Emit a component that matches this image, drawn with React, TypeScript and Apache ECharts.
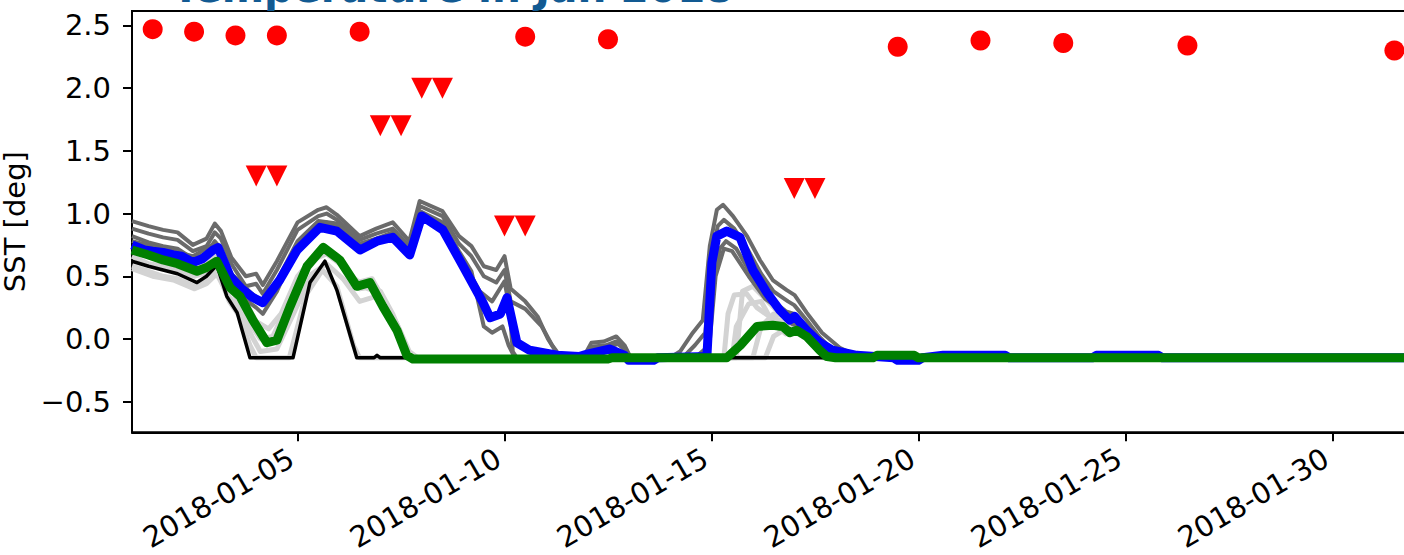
import React, { useEffect, useRef } from "react";
import * as echarts from "echarts";

// x values are days since 2018-01-01 00:00
const TITLE = "Temperature in Jan 2018";
const Y_NAME = "SST [deg]";
const X_TICK_DAYS = [4, 9, 14, 19, 24, 29];
const X_TICK_LABELS = ["2018-01-05", "2018-01-10", "2018-01-15", "2018-01-20", "2018-01-25", "2018-01-30"];
const Y_TICK_VALUES = [-0.5, 0, 0.5, 1.0, 1.5, 2.0, 2.5];
const Y_TICK_LABELS = ["\u22120.5", "0.0", "0.5", "1.0", "1.5", "2.0", "2.5"];

const lightMember1 = [[0,0.66],[0.4,0.6],[0.75,0.58],[1.1,0.55],[1.5,0.5],[1.8,0.53],[2.05,0.62],[2.3,0.45],[2.6,0.3],[2.9,0.12],[3.2,-0.02],[3.5,0.02],[3.85,0.3],[4.25,0.6],[4.65,0.72],[5.05,0.62],[5.45,0.45],[5.8,0.48],[6.1,0.3],[6.4,0.12],[6.6,-0.05],[6.75,-0.15],[14.3,-0.15],[14.4,0.2],[14.55,0.35],[14.85,0.36],[15.1,0.25],[15.4,0.18],[15.7,0.14],[16.0,0.06],[16.3,0.0],[16.6,-0.1],[16.8,-0.15],[30.9,-0.15]];
const lightMember2 = [[0,0.58],[0.4,0.54],[0.75,0.5],[1.1,0.48],[1.5,0.42],[1.8,0.46],[2.05,0.55],[2.35,0.3],[2.6,0.18],[2.85,-0.05],[3.0,-0.15],[3.8,-0.15],[4.2,0.35],[4.6,0.55],[4.95,0.42],[5.35,-0.05],[5.5,-0.15],[14.6,-0.15],[14.75,0.38],[15.0,0.42],[15.3,0.32],[15.6,0.22],[15.9,0.12],[16.2,0.05],[16.5,-0.05],[16.8,-0.15],[30.9,-0.15]];
const lightMember3 = [[0,0.74],[0.4,0.68],[0.75,0.66],[1.1,0.63],[1.5,0.58],[1.8,0.6],[2.05,0.68],[2.35,0.5],[2.7,0.32],[3.0,0.14],[3.3,0.08],[3.6,0.2],[4.0,0.5],[4.5,0.7],[4.85,0.68],[5.3,0.5],[5.7,0.4],[6.0,0.38],[6.3,0.2],[6.55,0.0],[6.7,-0.15],[15.0,-0.15],[15.2,0.1],[15.5,0.2],[15.8,0.18],[16.1,0.1],[16.4,0.05],[16.7,-0.08],[16.9,-0.15],[30.9,-0.15]];
const lightMember4 = [[0,0.7],[0.75,0.62],[1.5,0.55],[2.05,0.64],[2.4,0.4],[2.8,0.15],[3.1,0.0],[3.4,0.02],[3.8,0.3],[4.3,0.62],[4.7,0.68],[5.1,0.58],[5.5,0.4],[5.9,0.42],[6.2,0.25],[6.5,0.05],[6.7,-0.1],[6.9,-0.15],[15.3,-0.15],[15.5,0.02],[15.8,0.08],[16.1,0.12],[16.4,0.05],[16.7,-0.05],[17.0,-0.15],[30.9,-0.15]];
const lightMember5 = [[0,0.56],[0.5,0.5],[1.0,0.47],[1.5,0.4],[1.8,0.44],[2.05,0.52],[2.3,0.36],[2.6,0.22],[2.9,0.02],[3.1,-0.1],[3.5,-0.08],[3.9,0.2],[4.35,0.52],[4.7,0.6],[5.1,0.48],[5.5,0.3],[5.9,0.34],[6.2,0.18],[6.5,0.0],[6.65,-0.15],[14.5,-0.15],[14.6,0.1],[14.9,0.28],[15.2,0.3],[15.5,0.12],[15.8,0.04],[16.1,0.08],[16.4,0.02],[16.7,-0.15],[30.9,-0.15]];

const darkMember1 = [[0,0.94],[0.4,0.9],[0.75,0.87],[1.1,0.85],[1.47,0.75],[1.8,0.8],[2.0,0.92],[2.15,0.86],[2.4,0.65],[2.75,0.5],[3.0,0.52],[3.16,0.43],[3.5,0.62],[4.0,0.93],[4.5,1.03],[4.7,1.05],[4.95,0.99],[5.5,0.82],[5.9,0.88],[6.3,0.93],[6.7,0.78],[6.95,1.1],[7.5,1.02],[7.9,0.82],[8.2,0.74],[8.5,0.58],[8.8,0.55],[9.0,0.66],[9.15,0.4],[9.5,0.3],[9.8,0.18],[10.05,0.0],[10.3,-0.13],[10.5,-0.15],[10.9,-0.15],[11.1,-0.03],[11.4,-0.02],[11.7,0.02],[11.9,-0.05],[12.05,-0.15],[13.0,-0.15],[13.24,-0.1],[13.55,0.05],[13.79,0.15],[13.96,0.74],[14.13,1.03],[14.28,1.07],[14.52,0.98],[14.86,0.82],[15.17,0.63],[15.48,0.47],[15.82,0.39],[16.01,0.35],[16.3,0.21],[16.67,0.05],[17.1,-0.07],[17.42,-0.12],[17.6,-0.15],[30.9,-0.15]];
const darkMember2 = [[0,0.88],[0.4,0.84],[0.75,0.81],[1.1,0.79],[1.47,0.7],[1.8,0.74],[2.0,0.85],[2.15,0.8],[2.4,0.6],[2.75,0.42],[3.0,0.44],[3.16,0.36],[3.5,0.55],[4.0,0.87],[4.5,0.98],[4.7,1.0],[4.95,0.95],[5.5,0.79],[5.9,0.84],[6.3,0.88],[6.7,0.74],[6.95,1.06],[7.5,0.98],[7.9,0.76],[8.2,0.66],[8.5,0.5],[8.8,0.45],[9.0,0.55],[9.15,0.3],[9.5,0.24],[9.9,0.1],[10.15,-0.05],[10.35,-0.14],[10.5,-0.15],[10.95,-0.15],[11.15,-0.06],[11.45,-0.05],[11.7,-0.02],[11.9,-0.08],[12.0,-0.15],[13.3,-0.15],[13.6,-0.05],[13.85,0.05],[14.0,0.6],[14.15,0.9],[14.3,0.95],[14.55,0.88],[14.9,0.7],[15.2,0.52],[15.5,0.38],[15.85,0.3],[16.0,0.27],[16.3,0.15],[16.6,0.02],[16.9,-0.08],[17.2,-0.14],[17.4,-0.15],[30.9,-0.15]];
const darkMember3 = [[0,0.82],[0.4,0.77],[0.75,0.74],[1.1,0.72],[1.47,0.64],[1.8,0.68],[2.0,0.78],[2.15,0.72],[2.45,0.45],[2.8,0.3],[3.0,0.25],[3.16,0.2],[3.5,0.38],[4.0,0.75],[4.5,0.9],[4.7,0.93],[4.95,0.9],[5.5,0.74],[5.9,0.78],[6.3,0.82],[6.7,0.68],[6.95,1.02],[7.5,0.93],[7.9,0.7],[8.2,0.54],[8.5,0.1],[8.7,0.05],[8.95,0.1],[9.1,-0.05],[9.25,-0.15],[10.9,-0.15],[11.1,-0.08],[11.5,-0.06],[11.75,-0.04],[11.95,-0.1],[12.05,-0.15],[13.5,-0.15],[13.9,-0.1],[14.02,0.4],[14.2,0.72],[14.35,0.78],[14.6,0.72],[14.9,0.55],[15.2,0.4],[15.5,0.3],[15.8,0.22],[16.0,0.2],[16.3,0.1],[16.6,-0.02],[16.9,-0.12],[17.1,-0.15],[30.9,-0.15]];
const darkMember4 = [[0,0.78],[0.75,0.72],[1.47,0.66],[2.0,0.76],[2.15,0.7],[2.4,0.52],[2.9,0.36],[3.16,0.3],[3.5,0.46],[4.0,0.78],[4.5,0.94],[4.95,0.92],[5.5,0.76],[5.9,0.8],[6.3,0.85],[6.7,0.7],[6.95,1.0],[7.5,0.9],[8.0,0.62],[8.4,0.38],[8.7,0.3],[9.0,0.46],[9.12,0.25],[9.2,-0.1],[9.3,-0.15],[10.9,-0.15],[11.2,-0.1],[11.6,-0.08],[11.9,-0.15],[13.6,-0.15],[13.95,-0.05],[14.1,0.5],[14.3,0.72],[14.5,0.7],[14.9,0.5],[15.3,0.32],[15.6,0.25],[15.95,0.12],[16.2,0.1],[16.5,0.0],[16.8,-0.1],[17.0,-0.15],[30.9,-0.15]];

const blackLine = [[0,0.62],[0.4,0.58],[0.75,0.55],[1.1,0.52],[1.57,0.45],[1.8,0.5],[2.05,0.59],[2.29,0.34],[2.54,0.21],[2.85,-0.15],[3.89,-0.15],[4.3,0.45],[4.66,0.62],[4.95,0.39],[5.43,-0.15],[5.85,-0.15],[5.92,-0.13],[6.0,-0.15],[30.9,-0.15]];
const blueLine = [[0,0.75],[0.3,0.71],[0.5,0.7],[0.75,0.69],[1.0,0.67],[1.2,0.66],[1.47,0.61],[1.7,0.64],[1.96,0.71],[2.08,0.73],[2.37,0.5],[2.65,0.4],[2.92,0.33],[3.16,0.29],[3.57,0.47],[3.99,0.71],[4.54,0.89],[4.95,0.86],[5.51,0.71],[5.92,0.78],[6.3,0.81],[6.71,0.67],[7.0,0.98],[7.51,0.87],[8.0,0.58],[8.48,0.29],[8.65,0.17],[8.9,0.2],[9.06,0.33],[9.3,-0.03],[9.61,-0.09],[10.27,-0.13],[10.8,-0.14],[11.0,-0.12],[11.55,-0.08],[11.9,-0.13],[12.0,-0.17],[12.6,-0.17],[12.7,-0.15],[13.89,-0.14],[14.01,0.61],[14.13,0.82],[14.37,0.86],[14.69,0.81],[15.0,0.55],[15.34,0.37],[15.65,0.23],[15.89,0.15],[16.01,0.18],[16.3,0.07],[16.62,-0.03],[16.93,-0.09],[17.51,-0.13],[18.4,-0.15],[18.5,-0.17],[19.0,-0.17],[19.1,-0.15],[19.6,-0.13],[21.1,-0.13],[21.2,-0.15],[23.2,-0.15],[23.3,-0.13],[24.8,-0.13],[24.9,-0.15],[30.9,-0.15]];
const greenLine = [[0,0.71],[0.4,0.67],[0.75,0.63],[1.1,0.6],[1.57,0.54],[1.8,0.57],[2.05,0.62],[2.37,0.41],[2.61,0.34],[2.92,0.15],[3.26,-0.03],[3.5,-0.01],[3.82,0.26],[4.23,0.58],[4.62,0.73],[5.02,0.63],[5.43,0.42],[5.75,0.45],[6.06,0.26],[6.4,0.07],[6.64,-0.13],[6.79,-0.16],[11.5,-0.16],[11.6,-0.15],[14.37,-0.15],[14.7,-0.05],[15.1,0.1],[15.48,0.11],[15.72,0.1],[15.89,0.05],[16.06,0.07],[16.3,0.02],[16.62,-0.09],[16.79,-0.14],[17.0,-0.15],[17.9,-0.15],[18.0,-0.13],[18.9,-0.13],[19.0,-0.15],[30.9,-0.15]];

const obsDots = [[0.5,2.47],[1.5,2.45],[2.5,2.42],[3.5,2.42],[5.5,2.45],[9.5,2.41],[11.5,2.39],[18.5,2.33],[20.5,2.38],[22.5,2.36],[25.5,2.34],[30.5,2.3]];
const warnTriangles = [[3.0,1.3],[3.5,1.3],[6.0,1.7],[6.5,1.7],[7.0,2.0],[7.5,2.0],[9.0,0.9],[9.5,0.9],[16.0,1.2],[16.5,1.2]];

const FONT = "DejaVu Sans";

export default function App() {
  const ref = useRef<HTMLDivElement>(null);
  useEffect(() => {
    if (!ref.current) return;
    const chart = echarts.init(ref.current, null, { renderer: "svg" });
    const lineSeries = (data: number[][], color: string, width: number) => ({
      type: "line",
      data,
      showSymbol: false,
      symbol: "none",
      lineStyle: { color, width, join: "round", cap: "butt" },
      silent: true,
    });
    const yLabel = (v: number) => {
      const i = Y_TICK_VALUES.findIndex((t) => Math.abs(t - v) < 1e-6);
      return i >= 0 ? Y_TICK_LABELS[i] : "";
    };
    const xLabel = (v: number) => {
      const i = X_TICK_DAYS.findIndex((t) => Math.abs(t - v) < 1e-6);
      return i >= 0 ? X_TICK_LABELS[i] : "";
    };
    chart.setOption({
      animation: false,
      backgroundColor: "#fff",
      title: {
        text: TITLE,
        left: 172,
        top: -33,
        padding: 0,
        textStyle: { fontFamily: FONT, fontSize: 40.6, fontWeight: "bold", color: "#125a92" },
      },
      grid: {
        left: 132,
        top: 11,
        width: 1277,
        height: 421.3,
        containLabel: false,
        outerBoundsMode: "none",
        show: true,
        borderColor: "#000",
        borderWidth: 2,
        backgroundColor: "transparent",
      },
      xAxis: {
        type: "value",
        min: 0,
        max: 1277 / 41.39,
        splitLine: { show: false },
        axisLine: { show: true, onZero: false, lineStyle: { color: "#000", width: 2 } },
        axisTick: { show: true, customValues: X_TICK_DAYS, length: 9, lineStyle: { color: "#000", width: 2 } },
        axisLabel: {
          customValues: X_TICK_DAYS,
          formatter: xLabel,
          rotate: 30,
          margin: 20,
          padding: [0, 7, 0, 0],
          fontFamily: FONT,
          fontSize: 29,
          color: "#000",
        },
      },
      yAxis: {
        type: "value",
        min: -0.744,
        max: 2.615,
        name: Y_NAME,
        nameLocation: "middle",
        nameGap: 94,
        nameTextStyle: { fontFamily: FONT, fontSize: 29, lineHeight: 29, color: "#000" },
        splitLine: { show: false },
        axisLine: { show: true, onZero: false, lineStyle: { color: "#000", width: 2 } },
        axisTick: { show: true, customValues: Y_TICK_VALUES, length: 9, lineStyle: { color: "#000", width: 2 } },
        axisLabel: {
          customValues: Y_TICK_VALUES,
          formatter: yLabel,
          margin: 21,
          fontFamily: FONT,
          fontSize: 29,
          color: "#000",
        },
      },
      series: [
        lineSeries(lightMember1, "#d3d3d3", 5),
        lineSeries(lightMember2, "#d3d3d3", 5),
        lineSeries(lightMember3, "#d3d3d3", 5),
        lineSeries(lightMember4, "#d3d3d3", 5),
        lineSeries(lightMember5, "#d3d3d3", 5),
        lineSeries(darkMember1, "#6b6b6b", 4),
        lineSeries(darkMember2, "#6b6b6b", 4),
        lineSeries(darkMember3, "#6b6b6b", 4),
        lineSeries(darkMember4, "#6b6b6b", 4),
        lineSeries(blackLine, "#000000", 3.5),
        lineSeries(blueLine, "#0000ff", 9),
        lineSeries(greenLine, "#008000", 9),
        {
          type: "scatter",
          data: obsDots,
          symbol: "circle",
          symbolSize: 20,
          itemStyle: { color: "#ff0000", opacity: 1 },
          silent: true,
        },
        {
          type: "scatter",
          data: warnTriangles,
          symbol: "triangle",
          symbolRotate: 180,
          symbolSize: 21,
          itemStyle: { color: "#ff0000", opacity: 1 },
          silent: true,
        },
      ],
    });
    return () => chart.dispose();
  }, []);
  return (
    <div
      ref={ref}
      style={{ position: "absolute", left: 0, top: 0, width: 1404, height: 555, overflow: "hidden" }}
    />
  );
}
